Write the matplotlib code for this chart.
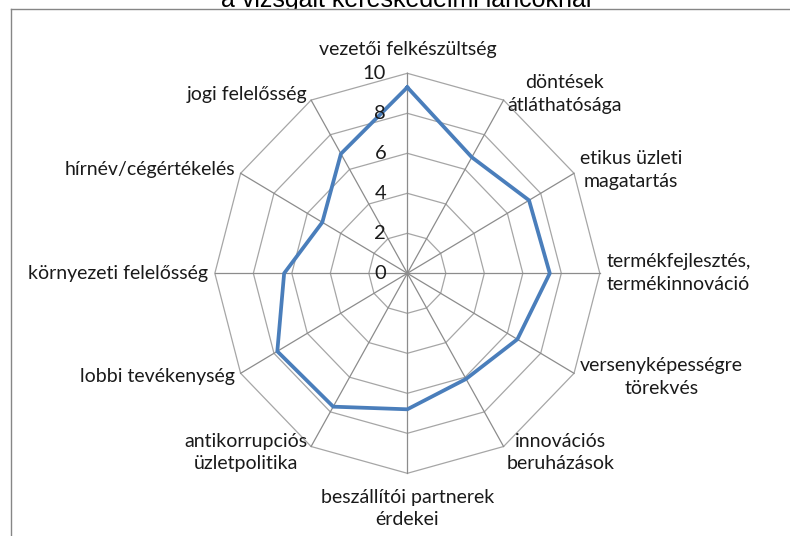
import numpy as np
import matplotlib
matplotlib.use('Agg')
import matplotlib.pyplot as plt

# categories, clockwise from the top
categories = ['vezetői felkészültség', 'döntések\nátláthatósága',
              'etikus üzleti\nmagatartás', 'termékfejlesztés,\ntermékinnováció',
              'versenyképességre\ntörekvés', 'innovációs\nberuházások',
              'beszállítói partnerek\nérdekei', 'antikorrupciós\nüzletpolitika',
              'lobbi tevékenység', 'környezeti felelősség',
              'hírnév/cégértékelés', 'jogi felelősség']
values = [9.3, 6.7, 7.3, 7.4, 6.6, 6.1, 6.8, 7.7, 7.8, 6.4, 5.1, 6.9]
ring_levels = [2, 4, 6, 8, 10]
tick_labels = ['0', '2', '4', '6', '8', '10']
title = 'a vizsgált kereskedelmi láncoknál'

plt.rcParams['font.family'] = ['Lato', 'DejaVu Sans']

fig = plt.figure(figsize=(7.9, 5.36), dpi=100)
fig.text(0.5145, 1 - 7 / 536, title, ha='center', va='baseline',
         fontsize=18, family='Liberation Sans', zorder=-1)

ax = fig.add_axes([11 / 790, 0, 1 - 11 / 790, 527 / 536])
ax.set_facecolor('white')
ax.set_xlim(-20.59, 19.88)
ax.set_ylim(-13.135, 13.215)
ax.set_xticks([])
ax.set_yticks([])
for side in ['right', 'bottom']:
    ax.spines[side].set_visible(False)
for side in ['left', 'top']:
    ax.spines[side].set_color('#868686')
    ax.spines[side].set_linewidth(1.0)

n = len(categories)
angles = np.arange(n) * 2 * np.pi / n
sx = np.sin(angles)
cy = np.cos(angles)

# polygon grid rings
for lev in ring_levels:
    gx = lev * sx
    gy = lev * cy
    ax.plot(np.append(gx, gx[0]), np.append(gy, gy[0]),
            color='#a6a6a6', lw=0.9, zorder=1)
# spokes
for i in range(n):
    ax.plot([0, 10 * sx[i]], [0, 10 * cy[i]], color='#8c8c8c', lw=0.9, zorder=1)

# data line
v = np.array(values)
px = v * sx
py = v * cy
ax.plot(np.append(px, px[0]), np.append(py, py[0]),
        color='#4a7ebb', lw=2.7, zorder=3, solid_joinstyle='round')

# value axis labels
for lab in tick_labels:
    ax.text(-1.1, float(lab), lab, ha='right', va='center', fontsize=14.5,
            color='#1a1a1a', zorder=4)

# category labels
for i, cat in enumerate(categories):
    if abs(sx[i]) < 0.1:
        r = 11.2 if cy[i] > 0 else 11.75
        ha = 'center'
    else:
        r = 10.35
        ha = 'left' if sx[i] > 0 else 'right'
    ax.text(r * sx[i], r * cy[i], cat, ha=ha, va='center', ma='center',
            fontsize=14, color='#1a1a1a', linespacing=1.4, clip_on=False)

fig.savefig('out.png', dpi=100)
